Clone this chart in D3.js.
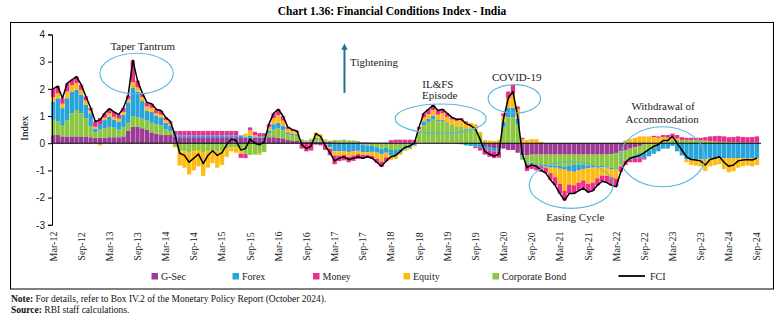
<!DOCTYPE html>
<html>
<head>
<meta charset="utf-8">
<script src="https://cdn.jsdelivr.net/npm/d3@7"></script>
<style>
body { margin: 0; background: #fff; }
svg { display: block; }
</style>
</head>
<body>
<div id="fciChart"></div>
<script>
// monthly readings of the components, Mar-12 .. Sep-24 (151 months)
var gsec = [0.3,0.3,0.25,0.25,0.25,0.25,0.25,0.25,0.22,0.2,
    0.2,0.2,0.22,0.22,0.22,0.25,0.45,0.6,0.6,0.55,
    0.5,0.4,0.35,0.3,0.3,0.3,0.25,0.22,0.22,0.22,
    0.22,0.22,0.22,0.22,0.22,0.22,0.22,0.22,0.22,0.22,
    0.22,0.2,0.2,0.2,0.2,0.2,0.22,0.22,0.2,0.18,
    0.12,0.1,0.08,0.05,0.05,0.05,0.05,0.05,0.05,0.04,
    0.04,0.03,0.03,0.03,0.03,0.03,0.03,0.03,0.02,0.02,
    0.02,0.02,0.03,0.03,0.03,0.03,0.03,0.02,0.02,0.02,
    0.02,0.02,0.02,0.02,0.02,0.02,0.02,0.02,0,0,
    -0.03,-0.05,-0.1,-0.15,-0.18,-0.2,-0.2,-0.25,-0.25,-0.35,
    -0.45,-0.45,-0.42,-0.42,-0.42,-0.42,-0.42,-0.42,-0.42,-0.42,
    -0.42,-0.42,-0.42,-0.42,-0.42,-0.42,-0.42,-0.42,-0.4,-0.4,
    -0.38,-0.3,-0.25,-0.2,-0.15,-0.1,-0.05,-0.03,-0.02,0,
    0,0,0,0,0,0,0,0,0,0,
    0,0,0,0,0,0,0,0,0,0,0]

var corp = [0.56,0.5,0.42,0.6,0.85,0.97,0.85,0.67,0.4,0.2,
    0.3,0.35,0.38,0.35,0.28,0.35,0.3,0.4,0.35,0.35,
    0.35,0.35,0.35,0.35,0.2,0.15,-0.1,-0.25,-0.3,-0.35,
    -0.3,-0.25,-0.35,-0.3,-0.25,-0.3,-0.25,-0.2,-0.15,-0.15,
    -0.2,-0.4,-0.43,-0.42,-0.38,-0.32,0.15,0.28,0.35,0.3,
    0.2,0.2,0.18,0.05,0.05,0.05,0.1,0.08,0.05,0.05,
    0.08,0.08,0.1,0.07,0.07,0.05,-0.05,-0.08,-0.1,-0.15,
    -0.2,-0.17,-0.25,-0.25,-0.2,-0.12,-0.1,0,0.4,0.65,
    0.75,0.85,0.78,0.8,0.72,0.65,0.6,0.6,0.55,0.55,
    0.5,0.3,0.05,0,0,0.05,0.6,0.95,0.95,0.7,
    -0.1,-0.3,-0.3,-0.35,-0.38,-0.38,-0.4,-0.4,-0.42,-0.45,
    -0.4,-0.38,-0.38,-0.38,-0.4,-0.4,-0.42,-0.42,-0.45,-0.5,
    -0.6,-0.5,-0.4,-0.35,-0.3,-0.3,-0.3,-0.25,-0.15,-0.05,
    0.05,0.08,0.12,0.12,0.12,0.12,0.12,0.12,0.1,0.1,
    0.08,0.06,0.05,0.05,0.04,0.03,0.03,0.02,0.02,0.02,0.02]

var forex = [0.67,0.85,0.62,0.8,0.8,0.75,0.68,0.5,0.48,0.14,
    0.18,0.3,0.38,0.3,0.3,0.45,0.75,1.05,0.95,0.65,
    0.35,0.4,0.3,0.3,0.25,0.2,0.08,0.07,0.07,0.07,
    0.07,0.07,0.07,0.07,0.07,0.07,0.07,0.07,0.07,0.07,
    0.07,0.05,0.08,0.05,0.05,0.05,0.1,0.2,0.2,0.15,
    0.08,0.05,0.04,0.03,0,0.02,0.05,0.05,-0.05,-0.15,
    -0.3,-0.3,-0.3,-0.32,-0.3,-0.28,-0.28,-0.25,-0.22,-0.2,
    -0.2,-0.18,-0.2,-0.2,-0.15,-0.1,-0.08,-0.08,0.05,0.13,
    0.12,0.15,0.05,0.05,0.03,0,-0.02,-0.04,-0.08,-0.1,
    -0.1,-0.12,-0.12,-0.12,-0.12,-0.1,0.2,0.35,0.35,0.2,
    -0.05,-0.05,-0.05,-0.05,-0.05,-0.05,-0.08,-0.08,-0.1,-0.1,
    -0.2,-0.25,-0.2,-0.15,-0.1,-0.08,-0.05,-0.05,-0.05,-0.05,
    -0.02,0,0,-0.05,-0.1,-0.15,-0.2,-0.2,-0.22,-0.25,
    -0.2,-0.2,-0.1,-0.3,-0.45,-0.6,-0.62,-0.6,-0.6,-0.6,
    -0.55,-0.55,-0.55,-0.55,-0.55,-0.55,-0.55,-0.55,-0.55,-0.55,-0.55]

var equity = [0.17,0.19,0.16,0.25,0.24,0.24,0.18,0.15,0.1,0.06,
    -0.08,0.09,0.12,0.1,0.1,0.1,0.12,0.2,0.15,0.15,
    0.15,0.15,0.1,0.1,0.1,0.08,-0.05,-0.57,-0.6,-0.8,
    -0.7,-0.6,-0.85,-0.6,-0.48,-0.6,-0.55,-0.3,-0.15,-0.2,
    -0.19,0.1,0.2,0.05,-0.05,0,0.13,0.22,0.28,0.2,
    0.12,0.1,0.1,0.02,0,0.05,0.2,0.15,0.05,-0.05,
    -0.15,-0.16,-0.13,-0.18,-0.15,-0.12,-0.1,-0.1,-0.15,-0.22,
    -0.27,-0.17,-0.16,-0.13,-0.08,-0.06,-0.05,-0.04,0.05,0.15,
    0.18,0.2,0.2,0.23,0.2,0.2,0.2,0.22,0.2,0.2,
    0.2,0.12,0.07,0.1,0.08,0.08,0.2,0.35,0.5,0.35,
    0.15,0.12,0.15,0.15,0.05,-0.05,-0.2,-0.35,-0.56,-0.78,
    -0.5,-0.5,-0.45,-0.42,-0.58,-0.55,-0.4,-0.3,-0.3,-0.3,
    -0.3,-0.05,0.1,0.15,0.2,0.25,0.25,0.25,0.22,0.2,
    0.18,0.12,0.1,0.05,-0.02,-0.1,-0.18,-0.22,-0.25,-0.42,
    -0.3,-0.26,-0.22,-0.4,-0.52,-0.48,-0.35,-0.3,-0.27,-0.3,-0.25]

var money = [0.3,0.26,0.2,0.3,0.19,0.24,0.19,0.15,0.1,0.2,
    0.25,0.16,0.17,0.18,0.15,0.15,0.13,0.8,0.25,0.15,
    0.15,0.15,0.15,0.15,0.1,0.07,0.12,0.16,0.16,0.16,
    0.16,0.16,0.16,0.16,0.16,0.16,0.16,0.16,0.16,0.16,
    -0.15,-0.15,0.1,0.12,0.12,0.12,0.1,0.18,0.22,0.17,
    0.08,0.05,0.05,-0.2,-0.3,-0.27,-0.05,-0.08,-0.2,-0.24,
    -0.32,-0.2,-0.2,-0.2,-0.2,-0.18,-0.15,-0.1,-0.1,-0.15,
    -0.2,-0.15,0.08,0.1,0.1,0.1,0.1,0.1,0.08,0.15,
    0.18,0.18,0.15,0.15,0.13,0.08,0.08,0.08,0.05,0,
    -0.05,-0.1,-0.2,-0.23,-0.25,-0.23,0.1,0.25,0.35,0.1,
    0.05,-0.22,-0.18,-0.18,-0.2,-0.2,-0.25,-0.3,-0.35,-0.35,
    -0.33,-0.3,-0.3,-0.28,-0.3,-0.3,-0.26,-0.21,-0.25,-0.3,
    -0.3,-0.2,-0.15,-0.1,-0.15,-0.15,-0.05,0,0.05,0.05,
    0.07,0.1,0.13,0.13,0.1,0.08,0.08,0.08,0.1,0.12,
    0.17,0.2,0.22,0.2,0.18,0.2,0.22,0.21,0.2,0.21,0.23]

// stacking order from zero outwards, and legend order
var stackKeys = ["gsec", "corp", "forex", "equity", "money"]
var legendKeys = ["gsec", "forex", "money", "equity", "corp"]
var seriesNames = {gsec: "G-Sec", forex: "Forex", money: "Money", equity: "Equity", corp: "Corporate Bond"}
var seriesColors = {gsec: "#9a3b96", forex: "#2aa3db", money: "#ea2e8c", equity: "#fdbb14", corp: "#8dc640"}
var yTicks = [-3, -2, -1, 0, 1, 2, 3, 4]

var width = 781, height = 322

var svg = d3.select("#fciChart")
    .append("svg")
    .attr("width", width)
    .attr("height", height)

var serif = "'Liberation Serif', 'Times New Roman', serif"

// title
svg.append("text")
    .attr("x", 392)
    .attr("y", 15)
    .attr("text-anchor", "middle")
    .style("font-family", serif)
    .style("font-weight", "bold")
    .style("font-size", "11.5px")
    .text("Chart 1.36: Financial Conditions Index - India")

// frame
svg.append("rect")
    .attr("x", 10.5)
    .attr("y", 22.5)
    .attr("width", 763)
    .attr("height", 266.5)
    .attr("fill", "none")
    .attr("stroke", "#000")
    .attr("stroke-width", 1)

// build rows
var months = d3.timeMonth.range(new Date(2012, 2, 1), new Date(2024, 9, 1))
var rows = months.map(function(d, i) {
    return {date: d, gsec: gsec[i], corp: corp[i], forex: forex[i], equity: equity[i], money: money[i],
        fci: gsec[i] + corp[i] + forex[i] + equity[i] + money[i]}
})

// scales
var x = d3.scaleBand()
    .domain(months)
    .range([50.9, 759.1])
    .paddingInner(0.08)

var xm = d3.scaleLinear()
    .domain([0, months.length - 1])
    .range([x(months[0]) + x.bandwidth() / 2, x(months[months.length - 1]) + x.bandwidth() / 2])

var y = d3.scaleLinear()
    .domain([-3, 4])
    .range([224.8, 34.4])

// stacked bars
var stacked = d3.stack()
    .keys(stackKeys)
    .offset(d3.stackOffsetDiverging)(rows)

svg.append("g")
    .selectAll("g")
    .data(stacked)
    .enter()
    .append("g")
    .attr("fill", function(d) { return seriesColors[d.key] })
    .selectAll("rect")
    .data(function(d) { return d })
    .enter()
    .append("rect")
    .attr("x", function(d) { return x(d.data.date) })
    .attr("width", x.bandwidth())
    .attr("y", function(d) { return y(Math.max(d[0], d[1])) })
    .attr("height", function(d) { return Math.abs(y(d[0]) - y(d[1])) })

// zero line
svg.append("line")
    .attr("x1", 52)
    .attr("x2", 761)
    .attr("y1", y(0))
    .attr("y2", y(0))
    .attr("stroke", "#000")
    .attr("stroke-width", 1.1)

// FCI line
svg.append("path")
    .datum(rows)
    .attr("fill", "none")
    .attr("stroke", "#000")
    .attr("stroke-width", 1.5)
    .attr("stroke-linejoin", "round")
    .attr("d", d3.line()
        .x(function(d) { return x(d.date) + x.bandwidth() / 2 })
        .y(function(d) { return y(d.fci) })
    )

// Y axis
var yAxis = svg.append("g")
    .attr("transform", "translate(52,0)")
    .call(d3.axisLeft(y).tickValues(yTicks).tickSize(4).tickPadding(3).tickFormat(function(d) { return String(d) }))
yAxis.selectAll("text")
    .style("font-family", "'Liberation Sans', Arial, sans-serif")
    .style("font-size", "10px")
    .attr("fill", "#222")
yAxis.select(".domain").attr("stroke", "#000")

svg.append("text")
    .attr("transform", "translate(28," + y(0.55) + ") rotate(-90)")
    .attr("text-anchor", "middle")
    .style("font-family", serif)
    .style("font-size", "11px")
    .text("Index")

// X axis labels (Mar and Sep)
var tickMonths = months.filter(function(d) { return d.getMonth() == 2 || d.getMonth() == 8 })
var xAxis = svg.append("g")
    .attr("transform", "translate(0,246.5)")
    .call(d3.axisBottom(x).tickValues(tickMonths).tickSize(0).tickFormat(d3.timeFormat("%b-%y")))
xAxis.select(".domain").remove()
xAxis.selectAll("text")
    .attr("x", 0)
    .attr("y", 0)
    .attr("dy", "0.35em")
    .attr("transform", "rotate(-90)")
    .style("text-anchor", "middle")
    .style("font-family", serif)
    .style("font-size", "10px")
    .attr("fill", "#222")

// annotations
var ellipses = [
    {m: 17.8, v: 2.56, rx: 36.7, ry: 20.3},
    {m: 82.6, v: 0.9, rx: 45.5, ry: 14.7},
    {m: 98.3, v: 1.63, rx: 26.2, ry: 14.2},
    {m: 129.9, v: -0.5, rx: 42.2, ry: 30},
    {m: 110.4, v: -1.54, rx: 42, ry: 23.3}
]
svg.append("g")
    .selectAll("ellipse")
    .data(ellipses)
    .enter()
    .append("ellipse")
    .attr("cx", function(d) { return xm(d.m) })
    .attr("cy", function(d) { return y(d.v) })
    .attr("rx", function(d) { return d.rx })
    .attr("ry", function(d) { return d.ry })
    .attr("fill", "none")
    .attr("stroke", "#5ab6e2")
    .attr("stroke-width", 1.1)

var notes = [
    {m: 19.1, v: 3.43, text: "Taper Tantrum"},
    {m: 82.0, v: 2.03, text: "IL&FS"},
    {m: 82.4, v: 1.63, text: "Episode"},
    {m: 98.8, v: 2.29, text: "COVID-19"},
    {m: 130.0, v: 1.22, text: "Withdrawal of"},
    {m: 129.8, v: 0.74, text: "Accommodation"},
    {m: 111.3, v: -2.86, text: "Easing Cycle"}
]
svg.append("g")
    .selectAll("text")
    .data(notes)
    .enter()
    .append("text")
    .attr("x", function(d) { return xm(d.m) })
    .attr("y", function(d) { return y(d.v) })
    .attr("text-anchor", "middle")
    .style("font-family", serif)
    .style("font-size", "11px")
    .attr("fill", "#222")
    .text(function(d) { return d.text })

// tightening arrow
svg.append("defs").append("marker")
    .attr("id", "arrowHead")
    .attr("viewBox", "0 0 10 10")
    .attr("refX", 5)
    .attr("refY", 5)
    .attr("markerWidth", 3.2)
    .attr("markerHeight", 3.2)
    .attr("orient", "auto")
    .append("path")
    .attr("d", "M0,0L10,5L0,10z")
    .attr("fill", "#236f90")
svg.append("line")
    .attr("x1", xm(62.1))
    .attr("x2", xm(62.1))
    .attr("y1", y(1.85))
    .attr("y2", y(3.55))
    .attr("stroke", "#236f90")
    .attr("stroke-width", 2)
    .attr("marker-end", "url(#arrowHead)")
svg.append("text")
    .attr("x", xm(63.3))
    .attr("y", y(2.84))
    .style("font-family", serif)
    .style("font-size", "11px")
    .attr("fill", "#222")
    .text("Tightening")

// legend
var legendX = [151.5, 232.5, 313, 403.5, 492.5]
var legend = svg.append("g")
    .selectAll("g")
    .data(legendKeys)
    .enter()
    .append("g")
    .attr("transform", function(d, i) { return "translate(" + legendX[i] + ",276)" })
legend.append("rect")
    .attr("x", 0)
    .attr("y", -3)
    .attr("width", 6.5)
    .attr("height", 6.5)
    .attr("fill", function(d) { return seriesColors[d] })
legend.append("text")
    .attr("x", 9.5)
    .attr("y", 3.5)
    .style("font-family", serif)
    .style("font-size", "10px")
    .attr("fill", "#222")
    .text(function(d) { return seriesNames[d] })

svg.append("line")
    .attr("x1", 618.5)
    .attr("x2", 645)
    .attr("y1", 276)
    .attr("y2", 276)
    .attr("stroke", "#000")
    .attr("stroke-width", 1.8)
svg.append("text")
    .attr("x", 650)
    .attr("y", 279.5)
    .style("font-family", serif)
    .style("font-size", "10px")
    .attr("fill", "#222")
    .text("FCI")

// footnotes
var note = svg.append("text")
    .attr("x", 11)
    .attr("y", 302)
    .style("font-family", serif)
    .style("font-size", "9.5px")
    .attr("fill", "#111")
note.append("tspan").style("font-weight", "bold").text("Note:")
note.append("tspan").text(" For details, refer to Box IV.2 of the Monetary Policy Report (October 2024).")

var source = svg.append("text")
    .attr("x", 11)
    .attr("y", 313)
    .style("font-family", serif)
    .style("font-size", "9.5px")
    .attr("fill", "#111")
source.append("tspan").style("font-weight", "bold").text("Source:")
source.append("tspan").text(" RBI staff calculations.")
</script>
</body>
</html>
